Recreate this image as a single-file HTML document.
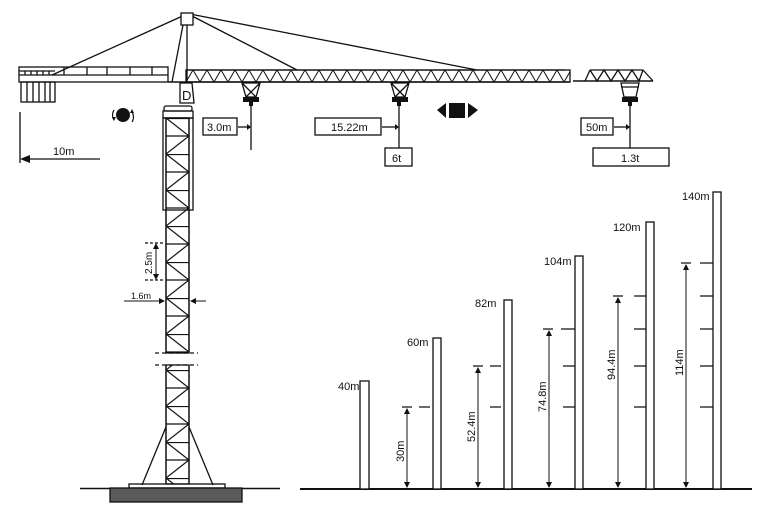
<!DOCTYPE html>
<html><head><meta charset="utf-8"><style>
html,body{margin:0;padding:0;background:#fff}
svg{display:block}
text{font-family:"Liberation Sans",sans-serif;fill:#111}
</style></head><body>
<svg width="776" height="521" viewBox="0 0 776 521" xmlns="http://www.w3.org/2000/svg">
<defs>
<pattern id="zz" x="186" y="70" width="14" height="12" patternUnits="userSpaceOnUse">
<path d="M0,12 L7,0 L14,12" fill="none" stroke="#111" stroke-width="1"/>
</pattern>
<pattern id="ms" x="166" y="118" width="23" height="36" patternUnits="userSpaceOnUse">
<path d="M0,0 L23,18 L0,36 M0,0.5 H23 M0,18 H23" fill="none" stroke="#111" stroke-width="1.2"/>
</pattern>
</defs>
<g stroke="#111" fill="none" stroke-width="1.3">
<line x1="187" y1="14" x2="52" y2="75"/>
<line x1="190" y1="15" x2="297" y2="70"/>
<line x1="190" y1="14" x2="477" y2="70"/>
<rect x="181" y="13" width="12" height="12" fill="#fff"/>
<line x1="183" y1="25" x2="172" y2="82"/>
<line x1="187" y1="25" x2="187" y2="82"/>
<rect x="19" y="67" width="149" height="15"/>
<line x1="19" y1="75" x2="168" y2="75"/>
<line x1="19" y1="71" x2="55" y2="71"/>
<path d="M64,67v8 M87,67v8 M107,67v8 M130,67v8 M152,67v8 M25,71v4 M31,71v4 M37,71v4 M43,71v4 M49,71v4"/>
<rect x="21" y="82" width="34" height="20"/>
<path d="M27,82v20 M33,82v20 M39,82v20 M45,82v20 M50,82v20"/>
<rect x="186" y="70" width="384" height="12" fill="url(#zz)"/>
<line x1="186" y1="70" x2="565" y2="70"/>
<line x1="168" y1="82" x2="570" y2="82" stroke-width="1.6"/>
<line x1="573" y1="81" x2="653" y2="81" stroke-width="1.6"/>
<path d="M590,70 L643,70 L653,81 M590,70 L585,81 M590,70 L597,81 L604,70 L611,81 L618,70 L625,81 L632,70 L639,81 L643,70"/>
<path d="M180,83 h12 l2,20 h-14 z" fill="#fff"/>
<text x="182" y="100" font-size="13" stroke="none">D</text>
<rect x="164" y="106" width="28" height="5" rx="2"/>
<rect x="163" y="111" width="30" height="7"/>
<rect x="163" y="118" width="30" height="92"/>
<rect x="166" y="118" width="23" height="235" fill="url(#ms)"/>
<rect x="166" y="365" width="23" height="119" fill="url(#ms)"/>
<line x1="166" y1="118" x2="166" y2="353"/><line x1="189" y1="118" x2="189" y2="353"/>
<line x1="166" y1="365" x2="166" y2="484"/><line x1="189" y1="365" x2="189" y2="484"/>
<line x1="155" y1="353" x2="198" y2="353" stroke-dasharray="4,3"/>
<line x1="155" y1="365" x2="198" y2="365" stroke-dasharray="4,3"/>
<line x1="166" y1="427" x2="142" y2="485"/>
<line x1="189" y1="427" x2="213" y2="485"/>
<rect x="129" y="484" width="96" height="4"/>
<line x1="80" y1="488.5" x2="280" y2="488.5" stroke-width="1.6"/>
<rect x="110" y="488" width="132" height="14" fill="#5a5a5a"/>
<line x1="145" y1="243" x2="165" y2="243" stroke-dasharray="3,2"/>
<line x1="145" y1="280" x2="165" y2="280" stroke-dasharray="3,2"/>
<line x1="156" y1="246" x2="156" y2="277" stroke-width="1"/>
<line x1="124" y1="301" x2="162" y2="301" stroke-width="1"/>
<line x1="206" y1="301" x2="193" y2="301" stroke-width="1"/>
<path d="M242,83 h18 l-4,14 h-10 z M242,83 L256,97 M260,83 L246,97"/>
<path d="M391,83 h18 l-4,14 h-10 z M391,83 L405,97 M409,83 L395,97"/>
<path d="M621,83 h18 l-3,14 h-12 z M621,87 h18"/>
<line x1="251" y1="103" x2="251" y2="150"/>
<line x1="399" y1="103" x2="399" y2="148"/>
<line x1="630" y1="103" x2="630" y2="148"/>
<rect x="203" y="118" width="34" height="17"/>
<rect x="315" y="118" width="66" height="17"/>
<rect x="385" y="148" width="27" height="18"/>
<rect x="581" y="118" width="32" height="17"/>
<rect x="593" y="148" width="76" height="18"/>
<line x1="238" y1="127" x2="247" y2="127"/>
<line x1="382" y1="127" x2="395" y2="127"/>
<line x1="614" y1="127" x2="626" y2="127"/>
<line x1="20" y1="112" x2="20" y2="163"/>
<line x1="28" y1="159" x2="100" y2="159"/>
<path d="M114,110 a9,9 0 0,0 0,10 M132,112 a9,9 0 0,1 0,10" stroke-width="1.2"/>
</g>
<g fill="#111">
<rect x="243" y="97" width="16" height="5"/><rect x="249" y="102" width="4" height="4"/>
<rect x="392" y="97" width="16" height="5"/><rect x="397" y="102" width="4" height="4"/>
<rect x="622" y="97" width="16" height="5"/><rect x="628" y="102" width="4" height="4"/>
<circle cx="123" cy="115" r="7"/>
<polygon points="112,117 116,117 114,121"/><polygon points="130,113 134,113 132,109"/>
<polygon points="437,110 446,103 446,118"/><rect x="449" y="103" width="16" height="15"/><polygon points="478,110 468,103 468,118"/>
<polygon points="20,159 30,155 30,163"/>
<polygon points="247,124 251,127 247,130"/><polygon points="395,124 399,127 395,130"/><polygon points="626,124 630,127 626,130"/>
<polygon points="156,243 153,249 159,249"/><polygon points="156,280 153,274 159,274"/>
<polygon points="165,301 159,298 159,304"/><polygon points="190,301 196,298 196,304"/>
</g>
<g font-size="11">
<text x="207" y="131">3.0m</text>
<text x="331" y="131">15.22m</text>
<text x="392" y="162">6t</text>
<text x="586" y="131">50m</text>
<text x="621" y="162">1.3t</text>
<text x="53" y="155">10m</text>
<text x="131" y="299" font-size="9">1.6m</text>
<text transform="translate(152,274) rotate(-90)" font-size="10">2.5m</text>
</g>
<g stroke="#111" fill="#fff" stroke-width="1.3">
<line x1="300" y1="489" x2="752" y2="489" stroke-width="2"/>
<rect x="360" y="381" width="9" height="108"/>
<rect x="433" y="338" width="8" height="151"/>
<rect x="504" y="300" width="8" height="189"/>
<rect x="575" y="256" width="8" height="233"/>
<rect x="646" y="222" width="8" height="267"/>
<rect x="713" y="192" width="8" height="297"/>
</g>
<g stroke="#111" stroke-width="1.3">
<path d="M402,407h10 M419,407h11"/>
<path d="M473,366h10 M490,366h11 M490,407h11"/>
<path d="M543,329h10 M561,329h14 M563,366h12 M563,407h12"/>
<path d="M613,296h10 M634,296h12 M634,329h12 M634,366h12 M634,407h12"/>
<path d="M681,263h10 M700,263h13 M700,296h13 M700,329h13 M700,366h13 M700,407h13"/>
<g stroke-width="1">
<line x1="407" y1="412" x2="407" y2="484"/>
<line x1="478" y1="371" x2="478" y2="484"/>
<line x1="549" y1="334" x2="549" y2="484"/>
<line x1="618" y1="301" x2="618" y2="484"/>
<line x1="686" y1="268" x2="686" y2="484"/>
</g>
</g>
<g fill="#111">
<polygon points="407,408 404,414 410,414"/><polygon points="407,488 404,482 410,482"/>
<polygon points="478,367 475,373 481,373"/><polygon points="478,488 475,482 481,482"/>
<polygon points="549,330 546,336 552,336"/><polygon points="549,488 546,482 552,482"/>
<polygon points="618,297 615,303 621,303"/><polygon points="618,488 615,482 621,482"/>
<polygon points="686,264 683,270 689,270"/><polygon points="686,488 683,482 689,482"/>
</g>
<g font-size="11">
<text x="338" y="390">40m</text>
<text x="407" y="346">60m</text>
<text x="475" y="307">82m</text>
<text x="544" y="265">104m</text>
<text x="613" y="231">120m</text>
<text x="682" y="200">140m</text>
<text transform="translate(404,462) rotate(-90)">30m</text>
<text transform="translate(475,442) rotate(-90)">52.4m</text>
<text transform="translate(546,412) rotate(-90)">74.8m</text>
<text transform="translate(615,380) rotate(-90)">94.4m</text>
<text transform="translate(683,376) rotate(-90)">114m</text>
</g>
</svg>
</body></html>
